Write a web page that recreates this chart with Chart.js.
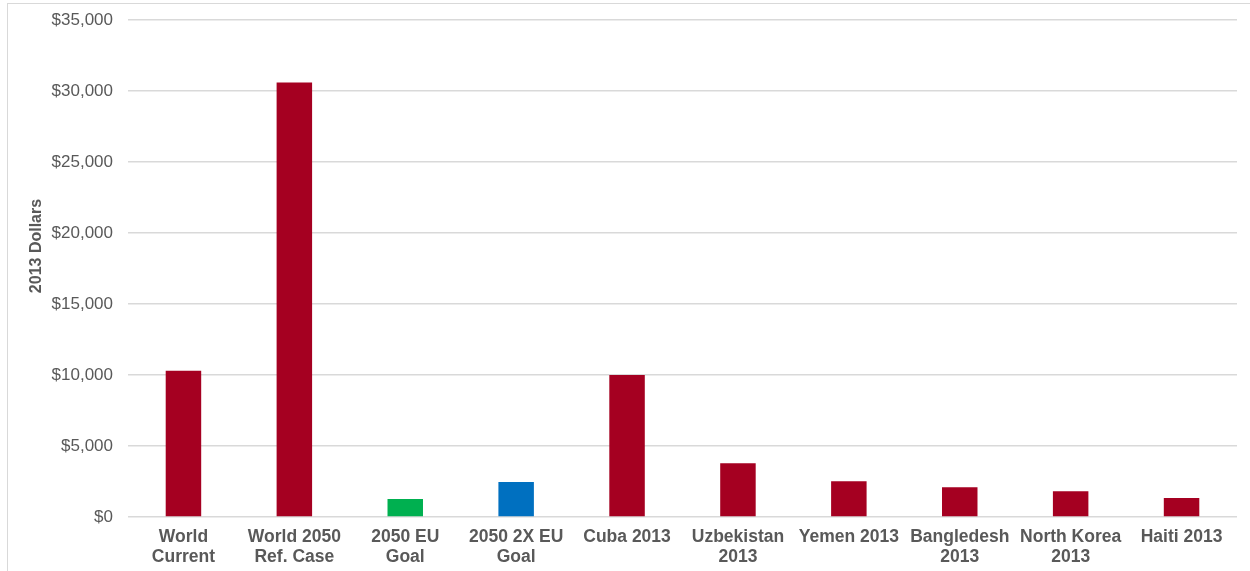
<!DOCTYPE html>
<html>
<head>
<meta charset="utf-8">
<script src="https://cdn.jsdelivr.net/npm/chart.js@4"></script>
<style>
  html, body { margin: 0; padding: 0; background: #ffffff; }
  body { width: 1250px; height: 571px; position: relative; overflow: hidden; }
  #frame {
    position: absolute; left: 7px; top: 3px; right: 0; bottom: 0;
    border-left: 1px solid #d9d9d9; border-top: 1px solid #d9d9d9;
  }
  #wrap { position: absolute; left: 0; top: 0; width: 1250px; height: 571px; }
</style>
</head>
<body>
<div id="frame"></div>
<div id="wrap"><canvas id="chart" width="1250" height="571"></canvas></div>
<script>
// Categories (multi-line labels) and values in 2013 dollars
const categories = [
  ["World", "Current"],
  ["World 2050", "Ref. Case"],
  ["2050 EU", "Goal"],
  ["2050 2X EU", "Goal"],
  "Cuba 2013",
  ["Uzbekistan", "2013"],
  "Yemen 2013",
  ["Bangledesh", "2013"],
  ["North Korea", "2013"],
  "Haiti 2013"
];
const values = [10300, 30600, 1270, 2460, 10000, 3780, 2510, 2090, 1810, 1340];
const barColors = ["#A50021", "#A50021", "#00B050", "#0070C0", "#A50021",
                   "#A50021", "#A50021", "#A50021", "#A50021", "#A50021"];
const yTitle = "2013 Dollars";
const yMax = 35000;
const yStep = 5000;

const font = "'Liberation Sans', Arial, sans-serif";
const textGray = "#595959";

// Vertical y-axis title drawn beside the tick labels
const yTitlePlugin = {
  id: "yTitle",
  afterDraw(chart) {
    const ctx = chart.ctx;
    ctx.save();
    ctx.translate(37, 246);
    ctx.rotate(-Math.PI / 2);
    ctx.font = "bold 16px " + font;
    ctx.fillStyle = textGray;
    ctx.textAlign = "center";
    ctx.textBaseline = "middle";
    ctx.fillText(yTitle, 0, 0);
    ctx.restore();
  }
};

new Chart(document.getElementById("chart"), {
  type: "bar",
  data: {
    labels: categories,
    datasets: [{
      data: values,
      backgroundColor: barColors,
      borderWidth: 0,
      barPercentage: 0.32,
      categoryPercentage: 1.0
    }]
  },
  options: {
    responsive: false,
    animation: false,
    layout: { padding: { top: 20, right: 13, bottom: 0, left: 0 } },
    plugins: {
      legend: { display: false },
      tooltip: { enabled: false }
    },
    scales: {
      x: {
        grid: { display: false, drawTicks: false },
        border: { display: false },
        ticks: {
          autoSkip: false,
          maxRotation: 0,
          minRotation: 0,
          padding: 10,
          color: textGray,
          font: { family: font, size: 17.5, weight: "bold", lineHeight: "20px" }
        },
        afterFit(scale) { scale.height = 54; }
      },
      y: {
        min: 0,
        max: yMax,
        grid: { color: "#d9d9d9", lineWidth: 1.5, drawTicks: false },
        border: { display: false },
        ticks: {
          stepSize: yStep,
          padding: 15,
          color: textGray,
          font: { family: font, size: 17 },
          callback: v => "$" + v.toLocaleString("en-US")
        },
        afterFit(scale) {
          scale.width = 128;
          scale.paddingTop = 0;
          scale.paddingBottom = 0;
        }
      }
    }
  },
  plugins: [yTitlePlugin]
});
</script>
</body>
</html>
